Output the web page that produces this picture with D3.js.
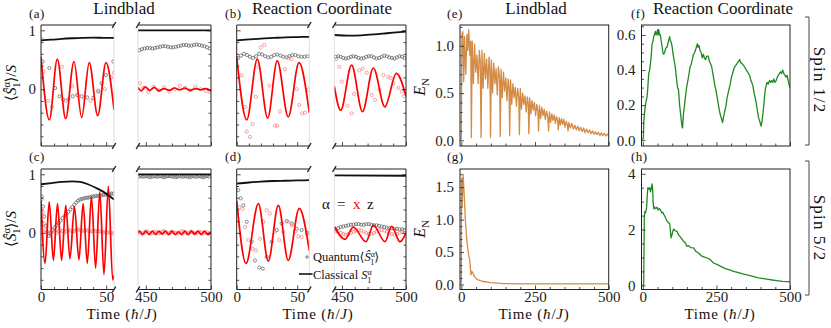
<!DOCTYPE html>
<html>
<head>
<meta charset="utf-8">
<script src="https://cdn.jsdelivr.net/npm/d3@7"></script>
<style>
  body { margin: 0; background: #fff; }
  svg text { font-family: "Liberation Serif", "DejaVu Serif", serif; }
</style>
</head>
<body>
<script>
// ---- data ---------------------------------------------------------------

// shared sample times for the dense quantum markers in the late-time windows
const tRight = [445,447,449,451,453,455,457,459,461,463,465,467,469,471,473,475,477,479,481,483,485,487,489,491,493,495,497,499];
const tRightFine = [444.5,446,447.5,449,450.5,452,453.5,455,456.5,458,459.5,461,462.5,464,465.5,467,468.5,470,471.5,473,474.5,476,477.5,479,480.5,482,483.5,485,486.5,488,489.5,491,492.5,494,495.5,497,498.5];
const tLeftB = [1,3.5,6,8.5,11,13.5,16,18.5,21,23.5,26,28.5,31,33.5,36,38.5,41,43.5,46,48.5,51,53.5,56,58.5];
const tLeftC = [0.5,1.5,2.5,3.5,4.5,6,7.5,9,10.5,12,13.5,15,16.5,18,19.5,21,22.5,24,25.5,27,28.5,30,31.5,33,34.5,36,37.5,39,40.5,42,43.5,45,46.5,48,49.5,51,52.5,54,55.5];

// (a) Lindblad, spin 1/2
const aClassZLeft = [[0,0.83],[8,0.84],[16,0.855],[24,0.865],[32,0.872],[40,0.875],[48,0.872],[56,0.87]];
const aClassZRight = [[444,1.0],[500,1.0]];
const aClassXLeft = [[0,0.55],[6.4,-0.52],[12.5,0.51],[18.9,-0.5],[25.3,0.47],[31.2,-0.48],[37,0.45],[43.5,-0.45],[49.9,0.45],[56,-0.35]];
const aClassXRight = [[444,0.03],[446.5,-0.03],[449.5,0.04],[453,-0.02],[456.5,0.03],[460,-0.03],[464,0.01],[468,-0.02],[472,0.02],[476,-0.01],[480,0.02],[484,-0.02],[488,0.01],[492,-0.01],[496,0.01],[500,-0.03]];
const aQuantZLeft = [[1.3,0.47],[6.4,0.36],[10.8,0.02],[14.1,-0.12],[17.2,-0.18],[21,-0.17],[24.3,-0.12],[27.9,-0.1],[31.2,-0.12],[35.5,-0.14],[40.1,-0.15],[43.9,-0.04],[46.5,0.1],[49.8,0.24],[55.5,0.47]];
const aQuantXLeft = [[0.5,0.85],[2,0.3],[5.5,-0.2],[8.5,-0.3],[16,0.38],[19,-0.2],[24,0.05],[28,-0.1],[33,-0.15],[38,-0.2],[44,-0.02],[49,0.0],[54,0.2],[56,0.28]];
const aQuantZRightVals = [0.66,0.68,0.69,0.70,0.70,0.69,0.70,0.71,0.72,0.73,0.73,0.72,0.71,0.71,0.72,0.73,0.74,0.75,0.75,0.74,0.74,0.75,0.76,0.75,0.74,0.73,0.71,0.69];
const aQuantXRight = [[445.5,0.1],[448,0.02],[452,-0.05],[456,0.04],[460,-0.02],[464,0.03],[468,-0.04],[472,0.0],[476,0.06],[480,0.02],[484,-0.02],[488,0.04],[492,0.0],[496,-0.03],[499,-0.05]];

// (b) reaction coordinate, spin 1/2
const bClassZLeft = [[0,0.83],[10,0.845],[20,0.86],[30,0.87],[40,0.88],[50,0.885],[60,0.89]];
const bClassZRight = [[444,0.92],[455,0.91],[465,0.915],[475,0.93],[485,0.95],[495,0.97],[500,0.98]];
const bClassXLeft = [[0,0.55],[8.3,-0.52],[17,0.51],[25.6,-0.49],[33.5,0.48],[42.6,-0.47],[51.5,0.45],[60,-0.4]];
const bClassXRight = [[444,0.05],[449,-0.36],[457.5,0.41],[466,-0.38],[474.5,0.36],[483.5,-0.3],[492.5,0.27],[500,-0.12]];
const bQuantZLeftVals = [0.53,0.57,0.6,0.58,0.55,0.53,0.56,0.6,0.59,0.56,0.54,0.55,0.58,0.59,0.57,0.55,0.54,0.56,0.58,0.58,0.56,0.55,0.55,0.56];
const bQuantXLeft = [[1.3,0.53],[4.1,0.23],[6.9,-0.3],[8.3,-0.72],[11,-0.81],[13.2,-0.59],[15.7,-0.13],[17.9,0.38],[19.8,0.71],[22.8,0.75],[27,0.06],[31.7,-0.62],[33.6,-0.62],[35.8,-0.38],[39.9,0.34],[42.7,0.53],[45.4,0.51],[49.6,0.0],[51.7,-0.27],[54,-0.41],[56.4,-0.4],[59.2,-0.01]];
const bQuantZRightVals = [0.55,0.56,0.55,0.53,0.52,0.53,0.55,0.56,0.55,0.53,0.52,0.53,0.55,0.56,0.56,0.54,0.52,0.53,0.55,0.57,0.56,0.54,0.53,0.52,0.54,0.56,0.55,0.53];
const bQuantXRight = [[445.6,0.51],[447.9,0.38],[449.8,0.13],[454.2,-0.28],[457.6,-0.41],[459.4,-0.08],[463.5,0.32],[466.2,0.35],[469.3,0.28],[473.2,-0.1],[475.8,-0.18],[479.2,-0.01],[482.3,0.24],[486.2,0.21],[488,0.19],[490.1,0.1],[494,0.02],[496.7,-0.04],[498.5,-0.12]];

// (c) Lindblad, spin 5/2
const cClassZLeft = [[0,0.83],[8,0.85],[16,0.87],[24,0.88],[30,0.87],[36,0.83],[42,0.77],[48,0.7],[53,0.62],[56,0.57]];
const cClassZRight = [[444,1.0],[500,1.0]];
const cClassXLeft = [[0,0.55],[3.1,-0.52],[6.3,0.53],[9.5,-0.47],[12.65,0.5],[15.8,-0.47],[19,0.47],[22.2,-0.44],[25.65,0.45],[29.1,-0.46],[32.3,0.5],[35.5,-0.52],[38.7,0.62],[41.9,-0.6],[45.1,0.7],[48.3,-0.71],[51.65,0.8],[55,-0.8],[56,-0.72]];
const cClassXRight = [[444,0.0],[445,0.03],[447.5,-0.03],[450,0.03],[452.5,-0.03],[455,0.03],[457.5,-0.03],[460,0.03],[462.5,-0.02],[465,0.03],[467.5,-0.03],[470,0.03],[472.5,-0.03],[475,0.02],[477.5,-0.03],[480,0.03],[482.5,-0.03],[485,0.03],[487.5,-0.02],[490,0.03],[492.5,-0.03],[495,0.03],[497.5,-0.03],[500,0.02]];
const cQuantZLeftVals = [0.62,0.45,0.28,0.12,0.02,-0.05,0.0,0.05,0.09,0.13,0.17,0.21,0.25,0.29,0.32,0.36,0.40,0.44,0.48,0.52,0.55,0.57,0.58,0.59,0.6,0.6,0.61,0.62,0.62,0.63,0.63,0.64,0.64,0.65,0.65,0.66,0.66,0.67,0.67];
const cQuantXLeftVals = [0.57,0.35,0.15,0.05,0.0,-0.02,0.02,0.04,0.02,0.0,0.03,0.05,0.03,0.01,0.03,0.05,0.04,0.02,0.03,0.05,0.06,0.05,0.03,0.04,0.05,0.04,0.02,0.03,0.04,0.03,0.02,0.03,0.02,0.01,0.02,0.0,0.01,0.0,-0.01];
const cQuantZRightVals = [0.96,0.97,0.96,0.96,0.97,0.96,0.95,0.96,0.97,0.96,0.96,0.97,0.96,0.95,0.96,0.97,0.97,0.96,0.96,0.95,0.96,0.97,0.96,0.96,0.97,0.96,0.95,0.96,0.97,0.96,0.96,0.97,0.96,0.95,0.96,0.97,0.96];
const cQuantXRightVals = [0.02,0.0,-0.01,0.01,0.03,0.01,-0.01,0.0,0.02,0.01,-0.01,0.0,0.02,0.03,0.01,-0.01,0.0,0.02,0.01,0.0,-0.01,0.01,0.03,0.02,0.0,-0.01,0.01,0.02,0.0,-0.01,0.0,0.02,0.01,-0.01,0.0,0.01,-0.01];

// (d) reaction coordinate, spin 5/2
const dClassZLeft = [[0,0.84],[10,0.86],[20,0.875],[30,0.885],[40,0.89],[50,0.895],[60,0.9]];
const dClassZRight = [[444,0.98],[500,0.975]];
const dClassXLeft = [[0,0.55],[7.7,-0.52],[17.9,0.5],[26.1,-0.48],[34.4,0.47],[42.6,-0.47],[51.7,0.42],[60,-0.3]];
const dClassXRight = [[444,0.11],[452.4,-0.11],[458.8,0.1],[468.7,-0.15],[474.5,0.13],[483.6,-0.15],[488.8,0.11],[495.3,-0.15],[500,0.0]];
const dQuantZLeft = [[1.3,0.73],[3.3,0.59],[5.5,0.47],[8.3,0.19],[12.4,-0.15],[15.1,-0.47],[18.7,-0.59],[21.5,-0.61],[24.8,-0.41],[28.9,-0.15],[33.1,0.05],[37.2,0.16],[41.3,0.2],[45.5,0.16],[49.6,0.07],[53.7,0.05],[58.4,0.0]];
const dQuantXLeft = [[2.2,0.44],[4.9,0.41],[6.9,0.1],[9.6,-0.12],[13.2,-0.27],[15.9,-0.3],[19.3,-0.1],[22,0.19],[24.8,0.39],[27.5,0.33],[31.7,0.02],[35.2,-0.12],[38.5,0.02],[42.6,0.19],[45.5,0.13],[48.2,0.02],[50.9,-0.06],[53.7,-0.07],[57.9,-0.02]];
const dQuantZRightVals = [0.06,0.08,0.10,0.11,0.12,0.13,0.14,0.14,0.15,0.15,0.14,0.14,0.15,0.15,0.14,0.13,0.13,0.12,0.11,0.10,0.09,0.08,0.08,0.07,0.07,0.06,0.06,0.05];
const dQuantXRightVals = [0.03,0.02,0.0,-0.02,-0.03,-0.02,0.0,0.02,0.04,0.05,0.04,0.02,0.0,-0.02,-0.02,0.0,0.02,0.04,0.05,0.04,0.02,0.0,-0.02,-0.03,-0.02,0.0,0.02,0.03];

// (e) E_N Lindblad, spin 1/2
const eEN = [[0,0],[2,1.12],[5,1.15],[8,0.62],[11,1.1],[15,0.7],[19,1.12],[22,0.95],[25,1.17],[29,0.9],[32,1.05],[34,0.03],
  [37,1.05],[41,0.6],[45,1.02],[49,0.72],[53,0.9],[57,0.6],[61,0.95],[64,0.85],[67,0.03],
  [70,0.95],[74,0.55],[78,0.92],[82,0.65],[86,0.86],[90,0.55],[94,0.88],[97,0.75],[99,0.03],
  [102,0.85],[106,0.5],[110,0.82],[114,0.6],[118,0.76],[122,0.48],[126,0.78],[130,0.65],[132,0.04],
  [135,0.75],[139,0.45],[143,0.72],[147,0.52],[151,0.66],[155,0.42],[159,0.65],[162,0.55],[164,0.05],
  [167,0.64],[171,0.38],[175,0.6],[179,0.45],[183,0.56],[187,0.36],[191,0.55],[195,0.45],[197,0.06],
  [200,0.55],[204,0.33],[208,0.5],[212,0.38],[216,0.47],[220,0.3],[224,0.46],[227,0.38],[229,0.07],
  [232,0.45],[236,0.28],[240,0.42],[244,0.32],[248,0.4],[252,0.26],[256,0.38],[260,0.3],[262,0.1],
  [265,0.37],[269,0.23],[273,0.35],[277,0.26],[281,0.33],[285,0.22],[289,0.31],[293,0.25],[296,0.1],
  [299,0.3],[303,0.19],[307,0.28],[311,0.21],[315,0.27],[319,0.18],[323,0.25],[327,0.2],[329,0.11],
  [332,0.24],[336,0.16],[340,0.23],[344,0.17],[348,0.22],[352,0.14],[356,0.2],[360,0.16],[362,0.1],
  [365,0.19],[370,0.13],[375,0.18],[380,0.12],[385,0.16],[390,0.11],[395,0.15],[400,0.1],
  [405,0.14],[410,0.09],[415,0.13],[420,0.08],[425,0.12],[430,0.08],[435,0.11],[440,0.07],[445,0.1],[450,0.065],
  [455,0.09],[460,0.06],[465,0.085],[470,0.05],[475,0.08],[480,0.05],[485,0.075],[490,0.045],[495,0.065],[500,0.05]];

// (f) E_N reaction coordinate, spin 1/2
const fEN = [[0,0],[2,0.02],[3.4,0.11],[5,0.14],[6.7,0.17],[9,0.2],[11,0.22],[14.6,0.25],[17,0.3],[20,0.38],[23,0.4],[26,0.44],[28,0.47],
  [31.5,0.55],[34,0.56],[37,0.59],[39,0.6],[42.7,0.62],[45,0.6],[48,0.61],[50,0.63],[52,0.6],[54,0.63],[57,0.6],[59.6,0.6],[62,0.57],
  [65,0.54],[68,0.5],[71,0.49],[74,0.5],[77,0.52],[80,0.53],[82,0.53],[85,0.55],[88,0.57],[91,0.59],[93,0.57],[96,0.56],[99,0.54],
  [102,0.5],[106,0.46],[110,0.42],[114,0.36],[118,0.3],[121,0.29],[125,0.2],[129,0.14],[133,0.08],[135,0.07],[138,0.15],[141,0.19],
  [145,0.25],[149.5,0.31],[153,0.34],[157,0.38],[160.7,0.42],[164,0.43],[168,0.46],[172,0.49],[176,0.5],[180,0.52],[185.5,0.55],
  [188,0.53],[191,0.54],[194.5,0.51],[198,0.5],[202,0.47],[205.7,0.49],[209,0.47],[213,0.46],[217,0.48],[222.5,0.48],[226,0.45],
  [229,0.44],[233.8,0.42],[238,0.38],[241,0.35],[245,0.31],[249,0.28],[252,0.25],[256,0.21],[260,0.17],[264,0.14],[268,0.12],
  [271,0.1],[274,0.13],[279,0.17],[283,0.2],[286,0.24],[290,0.27],[294,0.3],[297,0.32],[301,0.36],[305,0.38],[308,0.4],
  [312.5,0.42],[317,0.43],[321,0.44],[325,0.45],[329,0.46],[333,0.44],[336,0.44],[340.6,0.43],[345,0.42],[348,0.41],[352,0.4],
  [356,0.39],[359,0.38],[363,0.37],[367,0.34],[370,0.33],[374,0.31],[378,0.27],[382,0.24],[385.5,0.21],[389,0.17],[393,0.13],
  [396.8,0.11],[400,0.09],[402.4,0.08],[405,0.11],[408,0.15],[411,0.2],[414,0.26],[417,0.3],[419,0.31],[422,0.33],[426,0.32],
  [430.5,0.34],[434,0.33],[438,0.34],[441.7,0.33],[445,0.35],[449,0.33],[453,0.34],[457,0.36],[460,0.37],[464,0.38],[468,0.39],
  [471,0.38],[475.5,0.4],[479,0.38],[483,0.37],[486.7,0.36],[490,0.37],[494,0.34],[498,0.31],[500,0.3]];

// (g) E_N Lindblad, spin 5/2
const gEN = [[0,0],[1,1.64],[3,1.2],[6,1.7],[9,1.45],[13.6,1.0],[19.2,0.64],[24.9,0.46],[28.3,0.38],[32.8,0.15],[36.2,0.2],[39,0.18],
  [41.9,0.15],[46,0.11],[53.2,0.08],[70.2,0.05],[98.5,0.03],[143.7,0.015],[200,0.01],[300,0.01],[400,0.01],[500,0.01]];

// (h) E_N reaction coordinate, spin 5/2
const hEN = [[0,0],[3,0.05],[5,2.4],[6.8,2.65],[9,2.6],[12.5,2.75],[15,3.2],[17,3.5],[20,3.45],[23.7,3.5],[26,3.35],[28.3,3.45],
  [30,3.55],[31.7,3.64],[33.5,3.4],[35,3.0],[37.4,2.74],[40,2.8],[44,2.75],[48.6,2.8],[52,2.7],[56,2.75],[60,2.7],[64,2.6],[68,2.62],
  [71,2.55],[76,2.45],[82.5,2.3],[87,2.25],[91.5,2.2],[94,1.9],[96,1.7],[99,1.8],[102,1.95],[105,2.02],[110,1.95],[116,1.94],
  [122,1.8],[130,1.7],[137,1.6],[144.5,1.52],[150,1.4],[155.8,1.42],[163,1.35],[172.7,1.34],[180,1.22],[189.6,1.15],[200,1.05],
  [212,1.0],[220,0.97],[229,0.92],[240,0.8],[251.8,0.75],[265,0.68],[280,0.6],[295,0.55],[308,0.5],[322,0.46],[336.5,0.42],
  [350,0.38],[364.6,0.35],[380,0.3],[392.8,0.27],[410,0.24],[421,0.22],[440,0.19],[455,0.17],[475,0.14],[490,0.13],[500,0.12]];

// ---- layout ---------------------------------------------------------------
const width = 831, height = 328;
const RED = "#ff0000", PINK = "#f07b7b", GRAYDOT = "#5a5a5a", BLACK = "#111";
const ORANGE = "#d38b45", GREEN = "#1f8a1f", FRAME = "#222";

const spinYDomain = [-0.965, 1.09];
const rightDomain = [444, 500];
const enTimeDomain = [-4.5, 500];
const cols = [
  { l0: 41, l1: 114, r0: 138, r1: 211, lDom: [0, 56], labelY: true },
  { l0: 236.7, l1: 309.3, r0: 334.3, r1: 406, lDom: [0, 60], labelY: false }
];
const rows = [{ top: 25, bottom: 146 }, { top: 169, bottom: 289.5 }];

const svg = d3.select("body").append("svg").attr("width", width).attr("height", height);

let clipCount = 0;
function clipGroup(x0, y0, x1, y1) {
  const id = "clip" + (clipCount++);
  svg.append("clipPath").attr("id", id)
    .append("rect").attr("x", x0).attr("y", y0).attr("width", x1 - x0).attr("height", y1 - y0);
  return svg.append("g").attr("clip-path", `url(#${id})`);
}

function addLine(g, data, x, y, color, w, curve) {
  g.append("path").datum(data)
    .attr("fill", "none")
    .attr("stroke", color)
    .attr("stroke-width", w)
    .attr("stroke-linejoin", "round")
    .attr("d", d3.line().x(d => x(d[0])).y(d => y(d[1])).curve(curve || d3.curveLinear));
}

function addDots(g, data, x, y, color) {
  g.selectAll(null).data(data).join("circle")
    .attr("cx", d => x(d[0]))
    .attr("cy", d => y(d[1]))
    .attr("r", 1.6)
    .attr("fill", "none")
    .attr("stroke", color)
    .attr("stroke-width", 0.7);
}

function axis(gen, tx, ty) {
  const g = svg.append("g").attr("transform", `translate(${tx},${ty})`).call(gen);
  g.select(".domain").remove();
  g.attr("font-size", 15).attr("color", FRAME);
  g.selectAll("line").attr("stroke-width", 0.8);
  g.selectAll("text").filter(function () { return !this.textContent; }).remove();
  return g;
}

const minorY = [-0.8, -0.6, -0.4, -0.2, 0.2, 0.4, 0.6, 0.8];

function spinPanel(col, row, s, showX) {
  const y = d3.scaleLinear().domain(spinYDomain).range([row.bottom, row.top]);
  const xl = d3.scaleLinear().domain(col.lDom).range([col.l0, col.l1]);
  const xr = d3.scaleLinear().domain(rightDomain).range([col.r0, col.r1]);

  const parts = [
    { x: xl, x0: col.l0, x1: col.l1, gray: s.grayL, red: s.redL, xLine: s.xL, zLine: s.zL },
    { x: xr, x0: col.r0, x1: col.r1, gray: s.grayR, red: s.redR, xLine: s.xR, zLine: s.zR }
  ];
  parts.forEach(p => {
    const g = clipGroup(p.x0, row.top, p.x1, row.bottom);
    addDots(g, p.gray, p.x, y, GRAYDOT);
    addDots(g, p.red, p.x, y, PINK);
    addLine(g, p.xLine, p.x, y, RED, 1.7, d3.curveMonotoneX);
    addLine(g, p.zLine, p.x, y, BLACK, 1.8, d3.curveMonotoneX);
  });

  // frames: outer edges dark, inner (broken) edges faint
  svg.append("path")
    .attr("d", `M${col.l1},${row.top}H${col.l0}V${row.bottom}H${col.l1}`)
    .attr("fill", "none").attr("stroke", FRAME).attr("stroke-width", 1);
  svg.append("path")
    .attr("d", `M${col.r0},${row.top}H${col.r1}V${row.bottom}H${col.r0}`)
    .attr("fill", "none").attr("stroke", FRAME).attr("stroke-width", 1);
  [col.l1, col.r0].forEach(xx => {
    svg.append("line").attr("x1", xx).attr("x2", xx).attr("y1", row.top).attr("y2", row.bottom)
      .attr("stroke", "#c8c8c8").attr("stroke-width", 0.6);
  });
  // break marks
  [[col.l1, row.top], [col.l1, row.bottom], [col.r0, row.top], [col.r0, row.bottom]].forEach(([bx, by]) => {
    svg.append("line").attr("x1", bx - 1.8).attr("y1", by + 3).attr("x2", bx + 1.8).attr("y2", by - 3)
      .attr("stroke", FRAME).attr("stroke-width", 1.4);
  });

  // ticks
  axis(d3.axisLeft(y).tickValues([0, 1]).tickSize(-4).tickPadding(5)
    .tickFormat(col.labelY ? d3.format("d") : ""), col.l0, 0);
  axis(d3.axisLeft(y).tickValues(minorY).tickSize(-2.5).tickFormat(""), col.l0, 0);
  axis(d3.axisRight(y).tickValues([0, 1]).tickSize(-4).tickFormat(""), col.r1, 0);
  axis(d3.axisRight(y).tickValues(minorY).tickSize(-2.5).tickFormat(""), col.r1, 0);
  axis(d3.axisBottom(xl).tickValues([0, 50]).tickSize(-4).tickPadding(2)
    .tickFormat(showX ? d3.format("d") : ""), 0, row.bottom);
  axis(d3.axisBottom(xl).tickValues([10, 20, 30, 40]).tickSize(-2.5).tickFormat(""), 0, row.bottom);
  axis(d3.axisBottom(xr).tickValues([450, 500]).tickSize(-4).tickPadding(2)
    .tickFormat(showX ? d3.format("d") : ""), 0, row.bottom);
  axis(d3.axisBottom(xr).tickValues([460, 470, 480, 490]).tickSize(-2.5).tickFormat(""), 0, row.bottom);
}

function enPanel(x0, x1, row, yDomain, yMajor, yMinor, yFmt, data, color, showX) {
  const x = d3.scaleLinear().domain(enTimeDomain).range([x0, x1]);
  const y = d3.scaleLinear().domain(yDomain).range([row.bottom, row.top]);
  const g = clipGroup(x0, row.top, x1, row.bottom);
  addLine(g, data, x, y, color, 1.3);
  svg.append("rect").attr("x", x0).attr("y", row.top).attr("width", x1 - x0).attr("height", row.bottom - row.top)
    .attr("fill", "none").attr("stroke", FRAME).attr("stroke-width", 1);
  axis(d3.axisLeft(y).tickValues(yMajor).tickSize(-4).tickPadding(6).tickFormat(d3.format(yFmt)), x0, 0);
  axis(d3.axisLeft(y).tickValues(yMinor).tickSize(-2.5).tickFormat(""), x0, 0);
  axis(d3.axisBottom(x).tickValues([0, 250, 500]).tickSize(-4).tickPadding(2)
    .tickFormat(showX ? d3.format("d") : ""), 0, row.bottom);
  axis(d3.axisBottom(x).tickValues([50, 100, 150, 200, 300, 350, 400, 450]).tickSize(-2.5).tickFormat(""), 0, row.bottom);
}

// ---- panels ---------------------------------------------------------------
spinPanel(cols[0], rows[0], {
  zL: aClassZLeft, zR: aClassZRight, xL: aClassXLeft, xR: aClassXRight,
  grayL: aQuantZLeft, redL: aQuantXLeft,
  grayR: d3.zip(tRight, aQuantZRightVals), redR: aQuantXRight
}, false);
spinPanel(cols[1], rows[0], {
  zL: bClassZLeft, zR: bClassZRight, xL: bClassXLeft, xR: bClassXRight,
  grayL: d3.zip(tLeftB, bQuantZLeftVals), redL: bQuantXLeft,
  grayR: d3.zip(tRight, bQuantZRightVals), redR: bQuantXRight
}, false);
spinPanel(cols[0], rows[1], {
  zL: cClassZLeft, zR: cClassZRight, xL: cClassXLeft, xR: cClassXRight,
  grayL: d3.zip(tLeftC, cQuantZLeftVals), redL: d3.zip(tLeftC, cQuantXLeftVals),
  grayR: d3.zip(tRightFine, cQuantZRightVals), redR: d3.zip(tRightFine, cQuantXRightVals)
}, true);
spinPanel(cols[1], rows[1], {
  zL: dClassZLeft, zR: dClassZRight, xL: dClassXLeft, xR: dClassXRight,
  grayL: dQuantZLeft, redL: dQuantXLeft,
  grayR: d3.zip(tRight, dQuantZRightVals), redR: d3.zip(tRight, dQuantXRightVals)
}, true);

enPanel(460, 608.7, rows[0], [-0.06, 1.22], [0, 0.5, 1.0], [0.1, 0.2, 0.3, 0.4, 0.6, 0.7, 0.8, 0.9, 1.1, 1.2], ".1f", eEN, ORANGE, false);
enPanel(641.5, 790, rows[0], [-0.033, 0.657], [0, 0.2, 0.4, 0.6], [0.05, 0.1, 0.15, 0.25, 0.3, 0.35, 0.45, 0.5, 0.55, 0.65], ".1f", fEN, GREEN, false);
enPanel(460, 608.7, rows[1], [-0.077, 1.78], [0, 0.5, 1.0, 1.5], [0.1, 0.2, 0.3, 0.4, 0.6, 0.7, 0.8, 0.9, 1.1, 1.2, 1.3, 1.4, 1.6, 1.7], ".1f", gEN, ORANGE, true);
enPanel(641.5, 790, rows[1], [-0.15, 4.17], [0, 2, 4], [0.5, 1, 1.5, 2.5, 3, 3.5], "d", hEN, GREEN, true);

// ---- text -----------------------------------------------------------------
function txt(x, y, str, size, anchor) {
  return svg.append("text").attr("x", x).attr("y", y).attr("font-size", size)
    .attr("text-anchor", anchor || "start").attr("fill", "#111").text(str);
}

// column titles
txt(124, 14, "Lindblad", 17, "middle");
txt(322, 14, "Reaction Coordinate", 17, "middle");
txt(536, 14, "Lindblad", 17, "middle");
txt(723, 14, "Reaction Coordinate", 17, "middle");

// panel letters
[["(a)", 29, 18], ["(b)", 225, 18], ["(c)", 29, 161], ["(d)", 225, 161],
 ["(e)", 447, 18], ["(f)", 631, 18], ["(g)", 447, 161], ["(h)", 631, 161]]
  .forEach(([s, x, y]) => txt(x, y, s, 13).attr("letter-spacing", 0.4));

// y label <S_1^alpha>/S
function spinYLabel(cx, cy) {
  const fs = 15;
  const t = svg.append("text").attr("transform", `translate(${cx},${cy}) rotate(-90)`)
    .attr("text-anchor", "middle").attr("font-size", fs).attr("fill", "#111");
  t.append("tspan").text("⟨");
  t.append("tspan").attr("font-style", "italic").text("Ŝ");
  t.append("tspan").attr("font-size", fs * 0.7).attr("dy", -fs * 0.38).text("α");
  t.append("tspan").attr("font-size", fs * 0.7).attr("dx", -fs * 0.38).attr("dy", fs * 0.62).text("1");
  t.append("tspan").attr("dy", -fs * 0.24).text("⟩/");
  t.append("tspan").attr("font-style", "italic").text("S");
}
spinYLabel(16, 83);
spinYLabel(16, 229);

function enYLabel(cx, cy) {
  const t = svg.append("text").attr("transform", `translate(${cx},${cy}) rotate(-90)`)
    .attr("text-anchor", "middle").attr("font-size", 16).attr("fill", "#111");
  t.append("tspan").attr("font-style", "italic").text("E");
  t.append("tspan").attr("font-size", 11).attr("dy", 4).text("N");
}
enYLabel(425, 87);
enYLabel(425, 229);

// x labels
function timeLabel(cx) {
  const t = svg.append("text").attr("x", cx).attr("y", 319).attr("text-anchor", "middle")
    .attr("font-size", 15).attr("letter-spacing", 0.8).attr("fill", "#111");
  t.append("tspan").text("Time (");
  t.append("tspan").attr("font-style", "italic").text("ħ");
  t.append("tspan").text("/");
  t.append("tspan").attr("font-style", "italic").text("J");
  t.append("tspan").text(")");
}
[122, 318, 534, 720].forEach(timeLabel);

// legend in (d)
txt(322, 209, "α", 15);
txt(337, 209, "=", 15);
txt(353, 209, "x", 15).attr("fill", RED);
txt(367, 209, "z", 15);

svg.append("circle").attr("cx", 307).attr("cy", 257).attr("r", 1.2)
  .attr("fill", "none").attr("stroke", GRAYDOT).attr("stroke-width", 0.8);
const q = txt(313, 261, "", 12.5);
q.append("tspan").text("Quantum⟨");
q.append("tspan").attr("font-style", "italic").text("Ŝ");
q.append("tspan").attr("font-size", 8).attr("dy", -4.5).text("α");
q.append("tspan").attr("font-size", 8).attr("dx", -4.5).attr("dy", 8.5).text("1");
q.append("tspan").attr("dy", -4).text("⟩");

svg.append("line").attr("x1", 299).attr("x2", 312.5).attr("y1", 274).attr("y2", 274)
  .attr("stroke", BLACK).attr("stroke-width", 1.6);
const c = txt(313, 279, "", 12.5);
c.append("tspan").text("Classical ");
c.append("tspan").attr("font-style", "italic").text("S");
c.append("tspan").attr("font-size", 8).attr("dy", -4.5).text("α");
c.append("tspan").attr("font-size", 8).attr("dx", -4.5).attr("dy", 8.5).text("1");

// spin brackets
[[17, 145, 80, "Spin 1/2"], [161, 295, 228, "Spin 5/2"]].forEach(([y0, y1, cy, label]) => {
  svg.append("path").attr("d", `M805,${y0}H809V${y1}H805`)
    .attr("fill", "none").attr("stroke", "#444").attr("stroke-width", 1);
  svg.append("text").attr("transform", `translate(814,${cy}) rotate(90)`)
    .attr("text-anchor", "middle").attr("font-size", 17).attr("letter-spacing", 1.2)
    .attr("fill", "#111").text(label);
});
</script>
</body>
</html>
